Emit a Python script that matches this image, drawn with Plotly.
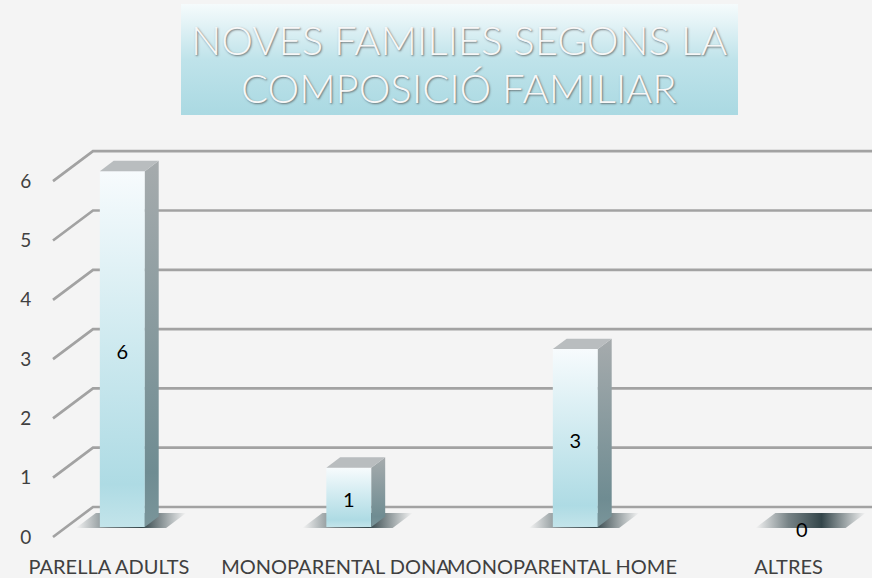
import plotly.graph_objects as go

# ---------------- data ----------------
categories = ["PARELLA ADULTS", "MONOPARENTAL DONA", "MONOPARENTAL HOME", "ALTRES"]
values = [6, 1, 3, 0]
y_ticks = [0, 1, 2, 3, 4, 5, 6]
title_lines = ["NOVES FAMILIES SEGONS LA", "COMPOSICIÓ FAMILIAR"]

# ---------------- geometry / style ----------------
W, H = 872, 578
BG = "#f4f4f4"
PX_CAT = 226.5      # pixels per category step
X0 = 109            # pixel x of category 0 (front plane)
PX_UNIT = 59.3      # pixels per value unit
Y0 = 537            # pixel y of value 0 (front plane)
L, R, T, B = 45, 872, 135, 549   # plot area in pixels
DX = 40 / PX_CAT    # depth offset (full depth) in data units
DY = 30 / PX_UNIT
HW = 22.5 / PX_CAT  # half bar width
D1, D2 = 1 / 3, 0.68
LABEL_DROP = 5 / PX_UNIT

xrange = [(L - X0) / PX_CAT, (R - X0) / PX_CAT]
yrange = [(Y0 - B) / PX_UNIT, (Y0 - T) / PX_UNIT]
XG = (53 - X0) / PX_CAT


def P(x, v, d):
    return x + DX * d, v + DY * d


def poly(points):
    xs = [p[0] for p in points] + [points[0][0]]
    ys = [p[1] for p in points] + [points[0][1]]
    return xs, ys


fig = go.Figure()

# gridlines (floor-to-back-wall diagonals + back wall lines)
gx, gy = [], []
for v in y_ticks:
    a = P(XG, v, 0)
    b = P(XG, v, 1)
    gx += [a[0], b[0], xrange[1] + 0.2, None]
    gy += [a[1], b[1], b[1], None]
fig.add_trace(go.Scatter(x=gx, y=gy, mode="lines", line=dict(color="#a2a2a2", width=2.7),
                         hoverinfo="skip", showlegend=False))

# bars
for i, v in enumerate(values):
    xl, xr = i - HW, i + HW
    # shadow on floor
    sx, sy = poly([P(xl - 0.1, 0, 0.3), P(xr + 0.1, 0, 0.3), P(xr + 0.1, 0, 0.8), P(xl - 0.1, 0, 0.8)])
    fig.add_trace(go.Scatter(
        x=sx, y=sy, mode="lines", line=dict(width=0), fill="toself",
        fillgradient=dict(type="horizontal",
                          colorscale=[[0, "rgba(35,55,60,0)"], [0.3, "rgba(35,55,60,0.6)"],
                                      [0.6, "rgba(30,50,55,0.9)"], [1, "rgba(35,55,60,0)"]]),
        hoverinfo="skip", showlegend=False))
    if v > 0:
        # front face
        fx, fy = poly([P(xl, 0, D1), P(xr, 0, D1), P(xr, v, D1), P(xl, v, D1)])
        fig.add_trace(go.Scatter(
            x=fx, y=fy, mode="lines", line=dict(width=0), fill="toself",
            fillgradient=dict(type="vertical",
                              colorscale=[[0, "#c3e4ea"], [0.12, "#aedbe4"], [0.5, "#cde9ef"], [1, "#f7fbfd"]]),
            hoverinfo="skip", showlegend=False))
        # side face
        rx, ry = poly([P(xr, 0, D1), P(xr, 0, D2), P(xr, v, D2), P(xr, v, D1)])
        fig.add_trace(go.Scatter(
            x=rx, y=ry, mode="lines", line=dict(width=0), fill="toself",
            fillgradient=dict(type="vertical",
                              colorscale=[[0, "#7a959a"], [0.15, "#6f8c92"], [1, "#a6abad"]]),
            hoverinfo="skip", showlegend=False))
        # top face
        tx, ty = poly([P(xl, v, D1), P(xr, v, D1), P(xr, v, D2), P(xl, v, D2)])
        fig.add_trace(go.Scatter(
            x=tx, y=ty, mode="lines", line=dict(width=0), fill="toself", fillcolor="#b9bdbf",
            hoverinfo="skip", showlegend=False))

# data labels
lx, ly = [], []
for i, v in enumerate(values):
    p = P(i, v / 2, D1)
    lx.append(p[0])
    ly.append(p[1] - LABEL_DROP)
fig.add_trace(go.Scatter(x=lx, y=ly, mode="text", text=[str(v) for v in values],
                         textposition="middle center",
                         textfont=dict(family="Lato", size=20, color="#000000"),
                         hoverinfo="skip", showlegend=False))

# title box (on its own axes)
bx, by = poly([(0, 0), (1, 0), (1, 1), (0, 1)])
fig.add_trace(go.Scatter(
    x=bx, y=by, xaxis="x2", yaxis="y2", mode="lines", line=dict(width=0), fill="toself",
    fillgradient=dict(type="vertical",
                      colorscale=[[0, "#aad9e2"], [0.5, "#bfe3ea"], [0.85, "#e6f4f7"], [1, "#f5fbfc"]]),
    hoverinfo="skip", showlegend=False))

title_font = dict(family="Lato", size=40, color="#f7f7f7", weight=300,
                  shadow="1px 1px 2px rgba(70,70,70,0.7)")
fig.add_annotation(text=title_lines[0], x=459.5 / W, y=1 - 40 / H, xref="paper", yref="paper",
                   showarrow=False, font=title_font, xanchor="center", yanchor="middle")
fig.add_annotation(text=title_lines[1], x=459.5 / W, y=1 - 88 / H, xref="paper", yref="paper",
                   showarrow=False, font=title_font, xanchor="center", yanchor="middle")

fig.update_layout(
    width=W, height=H,
    template="none",
    paper_bgcolor=BG, plot_bgcolor=BG,
    margin=dict(l=0, r=0, t=0, b=0),
    showlegend=False,
    xaxis=dict(domain=[L / W, R / W], range=xrange, tickmode="array", tickvals=list(range(len(categories))),
               ticktext=categories, tickangle=0, showgrid=False, zeroline=False, showline=False,
               ticks="outside", ticklen=0, tickcolor="rgba(0,0,0,0)", automargin=False,
               tickfont=dict(family="Lato", size=20, color="#404040"), fixedrange=True),
    yaxis=dict(domain=[1 - B / H, 1 - T / H], range=yrange, tickmode="array", tickvals=y_ticks,
               showgrid=False, zeroline=False, showline=False,
               ticks="outside", ticklen=9, tickcolor="rgba(0,0,0,0)", automargin=False,
               tickfont=dict(family="Lato", size=19, color="#404040"), fixedrange=True),
    xaxis2=dict(domain=[181 / W, 738 / W], range=[0, 1], visible=False, anchor="y2", fixedrange=True),
    yaxis2=dict(domain=[1 - 115 / H, 1 - 4 / H], range=[0, 1], visible=False, anchor="x2", fixedrange=True),
)

fig.write_html("out.html", config={"displayModeBar": False},
               post_script="document.body.style.margin='0';document.body.style.overflow='hidden';")
